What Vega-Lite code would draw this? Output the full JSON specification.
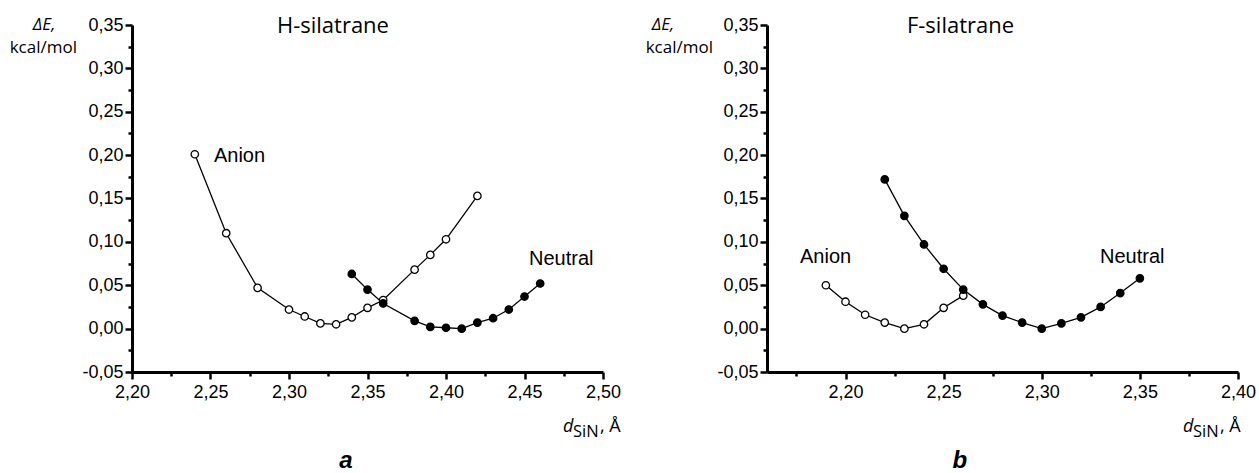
{
  "$schema": "https://vega.github.io/schema/vega-lite/v6.json",
  "background": "white",
  "padding": {"left": 9, "top": 15, "right": 0, "bottom": 0},
  "spacing": 24,
  "config": {
    "view": {"stroke": null},
    "font": "Liberation Sans",
    "locale": {
      "number": {"decimal": ",", "thousands": " ", "grouping": [3], "currency": ["", ""], "minus": "-"}
    }
  },
  "datasets": {
    "pts": [
      {"panel": "H", "series": "Anion", "d": 2.24, "E": 0.201},
      {"panel": "H", "series": "Anion", "d": 2.26, "E": 0.110},
      {"panel": "H", "series": "Anion", "d": 2.28, "E": 0.047},
      {"panel": "H", "series": "Anion", "d": 2.30, "E": 0.022},
      {"panel": "H", "series": "Anion", "d": 2.31, "E": 0.014},
      {"panel": "H", "series": "Anion", "d": 2.32, "E": 0.006},
      {"panel": "H", "series": "Anion", "d": 2.33, "E": 0.005},
      {"panel": "H", "series": "Anion", "d": 2.34, "E": 0.013},
      {"panel": "H", "series": "Anion", "d": 2.35, "E": 0.024},
      {"panel": "H", "series": "Anion", "d": 2.36, "E": 0.033},
      {"panel": "H", "series": "Anion", "d": 2.38, "E": 0.068},
      {"panel": "H", "series": "Anion", "d": 2.39, "E": 0.085},
      {"panel": "H", "series": "Anion", "d": 2.40, "E": 0.103},
      {"panel": "H", "series": "Anion", "d": 2.42, "E": 0.153},
      {"panel": "H", "series": "Neutral", "d": 2.34, "E": 0.063},
      {"panel": "H", "series": "Neutral", "d": 2.35, "E": 0.045},
      {"panel": "H", "series": "Neutral", "d": 2.36, "E": 0.029},
      {"panel": "H", "series": "Neutral", "d": 2.38, "E": 0.009},
      {"panel": "H", "series": "Neutral", "d": 2.39, "E": 0.002},
      {"panel": "H", "series": "Neutral", "d": 2.40, "E": 0.001},
      {"panel": "H", "series": "Neutral", "d": 2.41, "E": 0.000},
      {"panel": "H", "series": "Neutral", "d": 2.42, "E": 0.007},
      {"panel": "H", "series": "Neutral", "d": 2.43, "E": 0.012},
      {"panel": "H", "series": "Neutral", "d": 2.44, "E": 0.022},
      {"panel": "H", "series": "Neutral", "d": 2.45, "E": 0.037},
      {"panel": "H", "series": "Neutral", "d": 2.46, "E": 0.052},
      {"panel": "F", "series": "Anion", "d": 2.19, "E": 0.050},
      {"panel": "F", "series": "Anion", "d": 2.20, "E": 0.031},
      {"panel": "F", "series": "Anion", "d": 2.21, "E": 0.016},
      {"panel": "F", "series": "Anion", "d": 2.22, "E": 0.007},
      {"panel": "F", "series": "Anion", "d": 2.23, "E": 0.000},
      {"panel": "F", "series": "Anion", "d": 2.24, "E": 0.005},
      {"panel": "F", "series": "Anion", "d": 2.25, "E": 0.024},
      {"panel": "F", "series": "Anion", "d": 2.26, "E": 0.038},
      {"panel": "F", "series": "Neutral", "d": 2.22, "E": 0.172},
      {"panel": "F", "series": "Neutral", "d": 2.23, "E": 0.130},
      {"panel": "F", "series": "Neutral", "d": 2.24, "E": 0.097},
      {"panel": "F", "series": "Neutral", "d": 2.25, "E": 0.069},
      {"panel": "F", "series": "Neutral", "d": 2.26, "E": 0.045},
      {"panel": "F", "series": "Neutral", "d": 2.27, "E": 0.028},
      {"panel": "F", "series": "Neutral", "d": 2.28, "E": 0.015},
      {"panel": "F", "series": "Neutral", "d": 2.29, "E": 0.007},
      {"panel": "F", "series": "Neutral", "d": 2.30, "E": 0.000},
      {"panel": "F", "series": "Neutral", "d": 2.31, "E": 0.006},
      {"panel": "F", "series": "Neutral", "d": 2.32, "E": 0.013},
      {"panel": "F", "series": "Neutral", "d": 2.33, "E": 0.025},
      {"panel": "F", "series": "Neutral", "d": 2.34, "E": 0.041},
      {"panel": "F", "series": "Neutral", "d": 2.35, "E": 0.058}
    ]
  },
  "hconcat": [
    {
      "width": 471,
      "height": 347,
      "resolve": {"axis": {"x": "independent", "y": "independent"}},
      "layer": [
        {
          "data": {"name": "pts"},
          "transform": [{"filter": "datum.panel == 'H'"}],
          "mark": {"type": "point", "opacity": 0},
          "encoding": {
            "x": {"field": "d", "type": "quantitative", "scale": {"domain": [2.2, 2.5], "nice": false, "zero": false},
              "axis": {"orient": "bottom", "values": [2.225, 2.275, 2.325, 2.375, 2.425, 2.475], "labels": false, "domain": false, "grid": false, "tickColor": "black", "tickWidth": 2.5, "tickSize": 4, "title": null}},
            "y": {"field": "E", "type": "quantitative", "scale": {"domain": [-0.05, 0.35], "nice": false, "zero": false},
              "axis": {"orient": "left", "values": [-0.025, 0.025, 0.075, 0.125, 0.175, 0.225, 0.275, 0.325], "labels": false, "domain": false, "grid": false, "tickColor": "black", "tickWidth": 2.5, "tickSize": 4, "title": null}}
          }
        },
        {
          "data": {"name": "pts"},
          "transform": [{"filter": "datum.panel == 'H'"}],
          "mark": {"type": "point", "opacity": 0},
          "encoding": {
            "x": {"field": "d", "type": "quantitative",
              "axis": {"orient": "bottom", "values": [2.2, 2.25, 2.3, 2.35, 2.4, 2.45, 2.5], "labels": false, "domain": true, "domainColor": "black", "domainWidth": 3, "grid": false, "tickColor": "black", "tickWidth": 2.5, "tickSize": 7, "title": null}},
            "y": {"field": "E", "type": "quantitative",
              "axis": {"orient": "left", "values": [-0.05, 0, 0.05, 0.1, 0.15, 0.2, 0.25, 0.3, 0.35], "labels": false, "domain": true, "domainColor": "black", "domainWidth": 3, "grid": false, "tickColor": "black", "tickWidth": 2.5, "tickSize": 7, "title": null}}
          }
        },
        {
          "data": {"name": "pts"},
          "transform": [{"filter": "datum.panel == 'H'"}],
          "mark": {"type": "line", "color": "black", "strokeWidth": 1.3},
          "encoding": {
            "x": {"field": "d", "type": "quantitative",
              "axis": {"orient": "bottom", "values": [2.2, 2.25, 2.3, 2.35, 2.4, 2.45, 2.5], "format": ".2f", "ticks": false, "domain": false, "grid": false,
                "labelColor": "black", "labelFont": "Liberation Sans", "labelFontSize": 18, "labelFlush": -1, "labelPadding": 11, "title": null}},
            "y": {"field": "E", "type": "quantitative",
              "axis": {"orient": "left", "values": [-0.05, 0, 0.05, 0.1, 0.15, 0.2, 0.25, 0.3, 0.35], "format": ".2f", "ticks": false, "domain": false, "grid": false,
                "labelColor": "black", "labelFont": "Liberation Sans", "labelFontSize": 18, "labelPadding": 9, "title": null}},
            "detail": {"field": "series"}
          }
        },
        {
          "data": {"name": "pts"},
          "transform": [{"filter": "datum.panel == 'H'"}],
          "mark": {"type": "point", "filled": true, "stroke": "black", "strokeWidth": 1.3, "size": 55, "opacity": 1},
          "encoding": {
            "x": {"field": "d", "type": "quantitative", "axis": null},
            "y": {"field": "E", "type": "quantitative", "axis": null},
            "fill": {"field": "series", "type": "nominal", "scale": {"domain": ["Anion", "Neutral"], "range": ["white", "black"]}, "legend": null}
          }
        },
        {
          "data": {"values": [{}]},
          "mark": {"type": "text", "text": "H-silatrane", "font": "Open Sans", "fontSize": 22, "align": "center", "baseline": "alphabetic", "dy": 8, "color": "black"},
          "encoding": {"x": {"datum": 2.328, "axis": null}, "y": {"datum": 0.35, "axis": null}}
        },
        {
          "data": {"values": [{}]},
          "mark": {"type": "text", "text": "ΔE,", "font": "Open Sans", "fontStyle": "italic", "fontSize": 17, "align": "center", "baseline": "alphabetic", "dy": 5, "color": "black"},
          "encoding": {"x": {"datum": 2.144, "axis": null}, "y": {"datum": 0.35, "axis": null}}
        },
        {
          "data": {"values": [{}]},
          "mark": {"type": "text", "text": "kcal/mol", "font": "Open Sans", "fontSize": 17, "align": "right", "baseline": "alphabetic", "dx": -55, "dy": 28, "color": "black"},
          "encoding": {"x": {"datum": 2.2, "axis": null}, "y": {"datum": 0.35, "axis": null}}
        },
        {
          "data": {"values": [{}]},
          "mark": {"type": "text", "text": "a", "font": "Liberation Sans", "fontSize": 24, "fontWeight": "bold", "fontStyle": "italic", "align": "center", "baseline": "alphabetic", "dy": 96, "color": "black"},
          "encoding": {"x": {"datum": 2.3363, "axis": null}, "y": {"datum": -0.05, "axis": null}}
        },
        {
          "data": {"values": [{}]},
          "mark": {"type": "text", "text": "Anion", "font": "Liberation Sans", "fontSize": 20, "align": "left", "baseline": "alphabetic", "color": "black"},
          "encoding": {"x": {"datum": 2.2522, "axis": null}, "y": {"datum": 0.192, "axis": null}}
        },
        {
          "data": {"values": [{}]},
          "mark": {"type": "text", "text": "Neutral", "font": "Liberation Sans", "fontSize": 20, "align": "left", "baseline": "alphabetic", "color": "black"},
          "encoding": {"x": {"datum": 2.4529, "axis": null}, "y": {"datum": 0.0733, "axis": null}}
        },
        {
          "data": {"values": [{}]},
          "mark": {"type": "text", "text": "d", "font": "Open Sans", "fontStyle": "italic", "fontSize": 18, "align": "left", "baseline": "alphabetic", "dx": -40, "dy": 60, "color": "black"},
          "encoding": {"x": {"datum": 2.5, "axis": null}, "y": {"datum": -0.05, "axis": null}}
        },
        {
          "data": {"values": [{}]},
          "mark": {"type": "text", "text": "SiN", "font": "Open Sans", "fontSize": 16.5, "align": "left", "baseline": "alphabetic", "dx": -30, "dy": 65, "color": "black"},
          "encoding": {"x": {"datum": 2.5, "axis": null}, "y": {"datum": -0.05, "axis": null}}
        },
        {
          "data": {"values": [{}]},
          "mark": {"type": "text", "text": ", Å", "font": "Open Sans", "fontSize": 18, "align": "left", "baseline": "alphabetic", "dx": -3, "dy": 60, "color": "black"},
          "encoding": {"x": {"datum": 2.5, "axis": null}, "y": {"datum": -0.05, "axis": null}}
        }
      ]
    },
    {
      "width": 471,
      "height": 347,
      "resolve": {"axis": {"x": "independent", "y": "independent"}},
      "layer": [
        {
          "data": {"name": "pts"},
          "transform": [{"filter": "datum.panel == 'F'"}],
          "mark": {"type": "point", "opacity": 0},
          "encoding": {
            "x": {"field": "d", "type": "quantitative", "scale": {"domain": [2.16, 2.4], "nice": false, "zero": false},
              "axis": {"orient": "bottom", "values": [2.175, 2.225, 2.275, 2.325, 2.375], "labels": false, "domain": false, "grid": false, "tickColor": "black", "tickWidth": 2.5, "tickSize": 4, "title": null}},
            "y": {"field": "E", "type": "quantitative", "scale": {"domain": [-0.05, 0.35], "nice": false, "zero": false},
              "axis": {"orient": "left", "values": [-0.025, 0.025, 0.075, 0.125, 0.175, 0.225, 0.275, 0.325], "labels": false, "domain": false, "grid": false, "tickColor": "black", "tickWidth": 2.5, "tickSize": 4, "title": null}}
          }
        },
        {
          "data": {"name": "pts"},
          "transform": [{"filter": "datum.panel == 'F'"}],
          "mark": {"type": "point", "opacity": 0},
          "encoding": {
            "x": {"field": "d", "type": "quantitative",
              "axis": {"orient": "bottom", "values": [2.2, 2.25, 2.3, 2.35, 2.4], "labels": false, "domain": true, "domainColor": "black", "domainWidth": 3, "grid": false, "tickColor": "black", "tickWidth": 2.5, "tickSize": 7, "title": null}},
            "y": {"field": "E", "type": "quantitative",
              "axis": {"orient": "left", "values": [-0.05, 0, 0.05, 0.1, 0.15, 0.2, 0.25, 0.3, 0.35], "labels": false, "domain": true, "domainColor": "black", "domainWidth": 3, "grid": false, "tickColor": "black", "tickWidth": 2.5, "tickSize": 7, "title": null}}
          }
        },
        {
          "data": {"name": "pts"},
          "transform": [{"filter": "datum.panel == 'F'"}],
          "mark": {"type": "line", "color": "black", "strokeWidth": 1.3},
          "encoding": {
            "x": {"field": "d", "type": "quantitative",
              "axis": {"orient": "bottom", "values": [2.2, 2.25, 2.3, 2.35, 2.4], "format": ".2f", "ticks": false, "domain": false, "grid": false,
                "labelColor": "black", "labelFont": "Liberation Sans", "labelFontSize": 18, "labelFlush": -1, "labelPadding": 11, "title": null}},
            "y": {"field": "E", "type": "quantitative",
              "axis": {"orient": "left", "values": [-0.05, 0, 0.05, 0.1, 0.15, 0.2, 0.25, 0.3, 0.35], "format": ".2f", "ticks": false, "domain": false, "grid": false,
                "labelColor": "black", "labelFont": "Liberation Sans", "labelFontSize": 18, "labelPadding": 9, "title": null}},
            "detail": {"field": "series"}
          }
        },
        {
          "data": {"name": "pts"},
          "transform": [{"filter": "datum.panel == 'F'"}],
          "mark": {"type": "point", "filled": true, "stroke": "black", "strokeWidth": 1.3, "size": 55, "opacity": 1},
          "encoding": {
            "x": {"field": "d", "type": "quantitative", "axis": null},
            "y": {"field": "E", "type": "quantitative", "axis": null},
            "fill": {"field": "series", "type": "nominal", "scale": {"domain": ["Anion", "Neutral"], "range": ["white", "black"]}, "legend": null}
          }
        },
        {
          "data": {"values": [{}]},
          "mark": {"type": "text", "text": "F-silatrane", "font": "Open Sans", "fontSize": 22, "align": "center", "baseline": "alphabetic", "dy": 8, "color": "black"},
          "encoding": {"x": {"datum": 2.2586, "axis": null}, "y": {"datum": 0.35, "axis": null}}
        },
        {
          "data": {"values": [{}]},
          "mark": {"type": "text", "text": "ΔE,", "font": "Open Sans", "fontStyle": "italic", "fontSize": 17, "align": "center", "baseline": "alphabetic", "dy": 5, "color": "black"},
          "encoding": {"x": {"datum": 2.107, "axis": null}, "y": {"datum": 0.35, "axis": null}}
        },
        {
          "data": {"values": [{}]},
          "mark": {"type": "text", "text": "kcal/mol", "font": "Open Sans", "fontSize": 17, "align": "right", "baseline": "alphabetic", "dx": -54, "dy": 28, "color": "black"},
          "encoding": {"x": {"datum": 2.16, "axis": null}, "y": {"datum": 0.35, "axis": null}}
        },
        {
          "data": {"values": [{}]},
          "mark": {"type": "text", "text": "b", "font": "Liberation Sans", "fontSize": 24, "fontWeight": "bold", "fontStyle": "italic", "align": "center", "baseline": "alphabetic", "dy": 96, "color": "black"},
          "encoding": {"x": {"datum": 2.2583, "axis": null}, "y": {"datum": -0.05, "axis": null}}
        },
        {
          "data": {"values": [{}]},
          "mark": {"type": "text", "text": "Anion", "font": "Liberation Sans", "fontSize": 20, "align": "left", "baseline": "alphabetic", "color": "black"},
          "encoding": {"x": {"datum": 2.1768, "axis": null}, "y": {"datum": 0.076, "axis": null}}
        },
        {
          "data": {"values": [{}]},
          "mark": {"type": "text", "text": "Neutral", "font": "Liberation Sans", "fontSize": 20, "align": "left", "baseline": "alphabetic", "color": "black"},
          "encoding": {"x": {"datum": 2.3297, "axis": null}, "y": {"datum": 0.076, "axis": null}}
        },
        {
          "data": {"values": [{}]},
          "mark": {"type": "text", "text": "d", "font": "Open Sans", "fontStyle": "italic", "fontSize": 18, "align": "left", "baseline": "alphabetic", "dx": -55, "dy": 60, "color": "black"},
          "encoding": {"x": {"datum": 2.4, "axis": null}, "y": {"datum": -0.05, "axis": null}}
        },
        {
          "data": {"values": [{}]},
          "mark": {"type": "text", "text": "SiN", "font": "Open Sans", "fontSize": 16.5, "align": "left", "baseline": "alphabetic", "dx": -45, "dy": 65, "color": "black"},
          "encoding": {"x": {"datum": 2.4, "axis": null}, "y": {"datum": -0.05, "axis": null}}
        },
        {
          "data": {"values": [{}]},
          "mark": {"type": "text", "text": ", Å", "font": "Open Sans", "fontSize": 18, "align": "left", "baseline": "alphabetic", "dx": -18, "dy": 60, "color": "black"},
          "encoding": {"x": {"datum": 2.4, "axis": null}, "y": {"datum": -0.05, "axis": null}}
        }
      ]
    }
  ]
}
